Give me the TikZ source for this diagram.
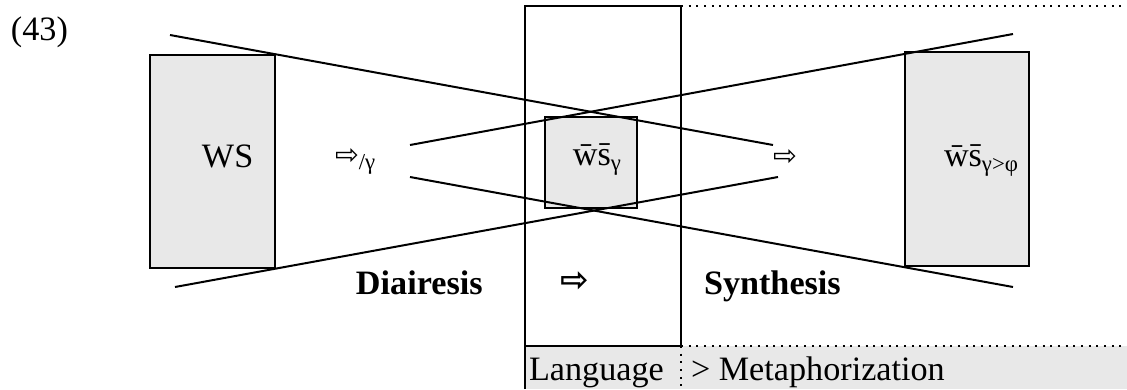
\documentclass[tikz,border=0pt]{standalone}
\usepackage{fontspec}
\setmainfont{Liberation Serif}
\newfontfamily\arrowfont{DejaVu Sans}
\newcommand{\thinarr}{{\arrowfont\fontsize{10}{10}\selectfont ⇨}}
\newcommand{\boldarr}{{\arrowfont\bfseries\fontsize{12}{12}\selectfont ⇨}}
\newcommand{\barws}{\=w\=s}
\begin{document}
\begin{tikzpicture}[x=0.351pt,y=-0.351pt,line width=0.7pt,
  every node/.style={font=\fontsize{12}{14}\selectfont,inner sep=0pt},
  greybox/.style={draw,fill=black!9}]
\useasboundingbox (0,0) rectangle (1127,389);

% grey strip at the bottom
\fill[black!9] (525,346) rectangle (1127,389);
\draw (525,389) -- (525,6) -- (681,6) -- (681,346) -- (525,346);
\draw[dotted] (681,6) -- (1127,6);
\draw[dotted] (681,346) -- (1127,346);
\draw[dotted] (681,346) -- (681,389);

% boxes
\draw[greybox] (150,55) rectangle (275,268);
\draw[greybox] (545,117) rectangle (637,208);
\draw[greybox] (905,52) rectangle (1029,266);

% crossing lines
\coordinate (a1) at (170,35);
\coordinate (a2) at (773,145);
\coordinate (b1) at (175,287);
\coordinate (b2) at (778,177);
\coordinate (c1) at (410,145);
\coordinate (c2) at (1013,34);
\coordinate (d1) at (410,177);
\coordinate (d2) at (1013,287);
\draw (a1) -- (a2);
\draw (b1) -- (b2);
\draw (c1) -- (c2);
\draw (d1) -- (d2);

\node[anchor=base west] (num) at (10,40) {(43)};
\node[anchor=base west] (ws) at (201,167) {WS};
\node[anchor=base west] (div) at (334,164) {\thinarr\textsubscript{/γ}};
\node[anchor=base west] (wsg) at (572,165) {\barws\textsubscript{γ}};
\node (mid) at (785,157) {\thinarr};
\node[anchor=base west] (wsgf) at (943,166) {\barws\textsubscript{γ>φ}};

\node[anchor=base west,font=\fontsize{12}{14}\selectfont\bfseries] (diair) at (355,294) {Diairesis};
\node (down) at (575,282) {\boldarr};
\node[anchor=base west,font=\fontsize{12}{14}\selectfont\bfseries] (synth) at (703,294) {Synthesis};

\node[anchor=base west] (lang) at (528,380) {Language};
\node[anchor=base west] (meta) at (690,380) {> Metaphorization};
\end{tikzpicture}
\end{document}
